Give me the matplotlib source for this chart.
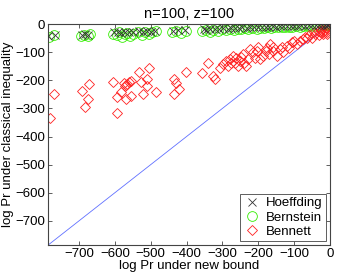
import matplotlib
matplotlib.use("Agg")
import matplotlib.pyplot as plt

plt.rcParams["font.family"] = ["Liberation Sans", "DejaVu Sans"]

# Hoeffding (x markers)
hoeff_x = [-785, -768, -692, -683, -676,
           -603, -592, -583, -572, -560, -550,
           -533, -522, -510, -498, -487,
           -438, -425, -405,
           -352, -345, -335, -322, -310, -298, -285, -275, -265, -255, -245,
           -232, -222, -212, -200, -190, -180, -170, -160, -150, -140,
           -130, -120, -110, -100, -90, -80, -70, -60, -50, -40,
           -30, -22, -15, -10, -5]
hoeff_y = [-42, -38, -40, -36, -38,
           -30, -28, -32, -30, -28, -30,
           -26, -28, -24, -27, -24,
           -24, -22, -20,
           -18, -22, -17, -16, -18, -15, -16, -13, -15, -14, -12,
           -13, -11, -12, -10, -11, -9, -10, -8, -9, -8,
           -7, -8, -6, -7, -6, -5, -6, -4, -5, -4,
           -3, -4, -3, -2, -3]

# Bernstein (circles)
bern_x = [-783, -770, -695, -685, -676, -670,
          -605, -595, -588, -580, -572, -565, -558, -550,
          -535, -525, -515, -505, -495, -485,
          -440, -430, -415, -402,
          -358, -345, -335, -325, -312, -300, -290, -280, -268, -258, -248,
          -238, -228, -218, -205, -195, -185, -175, -165, -155, -145,
          -135, -125, -115, -105, -95, -85, -75, -65, -55, -45,
          -35, -28, -20, -14, -8, -4]
bern_y = [-46, -40, -44, -38, -42, -36,
          -34, -40, -30, -46, -36, -32, -42, -34,
          -30, -38, -28, -34, -30, -26,
          -30, -26, -32, -24,
          -26, -22, -28, -20, -24, -19, -22, -18, -20, -17, -19,
          -15, -17, -14, -16, -13, -14, -12, -13, -11, -12,
          -10, -11, -9, -10, -8, -9, -7, -8, -6, -7,
          -5, -6, -4, -5, -3, -4]

# Bennett (diamonds)
benn_x = [-782, -770, -691, -672, -674, -682,
          -605, -593, -575, -570, -565, -572, -560, -593, -583, -568, -555, -555,
          -532, -506, -527, -509, -521, -509, -485,
          -434, -429, -420, -434, -401,
          -356, -341, -327, -322, -308, -299, -290, -285, -280, -275, -271,
          -266, -262, -258, -252, -248, -243, -240, -233, -230, -224, -215,
          -210, -205, -201, -196, -187, -180, -175, -170, -168, -160, -159,
          -149, -140, -135, -131, -121, -115, -107, -100, -93, -84, -75,
          -70, -65, -60, -51, -45, -42, -35, -30, -28, -25, -20, -19,
          -15, -12, -9, -8, -5]
benn_y = [-333, -250, -238, -212, -268, -295,
          -205, -315, -210, -218, -214, -222, -205, -260, -242, -268, -256, -202,
          -170, -155, -205, -196, -250, -220, -242,
          -196, -208, -230, -250, -172,
          -173, -137, -185, -196, -155, -143, -130, -150, -125, -140, -113,
          -137, -120, -150, -131, -118, -107, -140, -149, -125, -89, -100,
          -120, -95, -83, -125, -113, -95, -85, -105, -71, -95, -83,
          -113, -90, -80, -101, -77, -85, -65, -60, -71, -60, -55,
          -45, -48, -40, -48, -30, -36, -25, -40, -30, -20, -28, -36,
          -22, -15, -27, -35, -18]

lims = [-786, 0]
ticks = [-700, -600, -500, -400, -300, -200, -100, 0]

fig = plt.figure(figsize=(3.41, 2.76), dpi=100)
ax = fig.add_axes([0.141, 0.112, 0.827, 0.801])

ax.plot(lims, lims, color="#6070ff", linewidth=0.6, zorder=1)
ax.plot(hoeff_x, hoeff_y, linestyle="none", marker="x", color="#333333",
        markersize=5.5, markeredgewidth=0.6, label="Hoeffding", zorder=3)
ax.plot(bern_x, bern_y, linestyle="none", marker="o", markerfacecolor="none",
        markeredgecolor="#33ee00", markersize=7, markeredgewidth=0.6,
        label="Bernstein", zorder=2)
ax.plot(benn_x, benn_y, linestyle="none", marker="D", markerfacecolor="none",
        markeredgecolor="#ff2020", markersize=5.3, markeredgewidth=0.6,
        label="Bennett", zorder=2)

ax.set_xlim(lims)
ax.set_ylim(lims)
ax.set_xticks(ticks)
ax.set_yticks(ticks)
ax.tick_params(direction="in", top=True, right=True, labelsize=9.5,
               length=3, width=0.6, color="#444444", pad=2)
for s in ax.spines.values():
    s.set_linewidth(0.8)
    s.set_color("#444444")

ax.set_xlabel("log Pr under new bound", fontsize=9.5, labelpad=0)
ax.set_ylabel("log Pr under classical inequality", fontsize=9.5, labelpad=1)
ax.set_title("n=100, z=100", fontsize=10.5, pad=4)

leg = ax.legend(loc="lower right", fontsize=9.5, fancybox=False, framealpha=1,
                edgecolor="#444444", borderpad=0.25, labelspacing=0.15,
                handlelength=1.2, handletextpad=0.5, borderaxespad=0.3)
leg.get_frame().set_linewidth(0.6)

fig.savefig("out.png", dpi=100)
